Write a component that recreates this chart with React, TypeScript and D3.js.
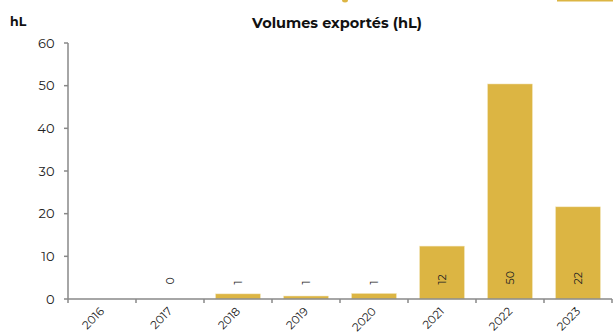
import React from "react";
import * as d3 from "d3";

const years = ["2016", "2017", "2018", "2019", "2020", "2021", "2022", "2023"];
const volumes: (number | null)[] = [null, 0, 1.2, 0.7, 1.3, 12.4, 50.4, 21.6];
const labels: (string | null)[] = [null, "0", "1", "1", "1", "12", "50", "22"];
const yTicks = [0, 10, 20, 30, 40, 50, 60];

const W = 613;
const H = 333;
const FONT = "Montserrat, 'DejaVu Sans', Verdana, sans-serif";
const BAR = "#DCB543";

export default function App() {
  const x = d3.scaleBand<string>().domain(years).range([68, 612]).paddingInner(0.34).paddingOuter(0.17);
  const y = d3.scaleLinear().domain([0, 60]).range([299, 43]);
  const full = d3.scaleBand<string>().domain(years).range([68, 612]);

  return (
    <svg width={W} height={H} style={{ position: "absolute", left: 0, top: 0 }} fontFamily={FONT}>
      <rect x={0} y={0} width={W} height={H} fill="#fff" />
      {/* cropped legend remnants at top */}
      <ellipse cx={345} cy={0} rx={3} ry={2.5} fill={BAR} />
      <rect x={557} y={0} width={56} height={1.5} fill={BAR} />

      <text x={10} y={25.5} fontSize={12.5} fontWeight="bold" fill="#111">hL</text>
      <text x={337} y={27.5} fontSize={14.5} fontWeight="bold" fill="#111" textAnchor="middle">Volumes exportés (hL)</text>

      {/* bars */}
      {years.map((yr, i) => {
        const v = volumes[i];
        if (v === null || v <= 0) return null;
        return (
          <rect key={yr} x={x(yr)} y={y(v)} width={x.bandwidth()} height={y(0) - y(v)} fill={BAR} stroke="#f3e7c0" strokeWidth={0.5} />
        );
      })}

      {/* y axis */}
      <line x1={68} x2={68} y1={y(60)} y2={y(0)} stroke="#888" strokeWidth={1.5} />
      {yTicks.map((t) => (
        <g key={t}>
          <line x1={64} x2={68} y1={y(t)} y2={y(t)} stroke="#888" strokeWidth={1.5} />
          <text x={54.5} y={y(t)} dy="0.35em" fontSize={13} textAnchor="end" fill="#222">{t}</text>
        </g>
      ))}

      {/* x axis */}
      <line x1={68} x2={612} y1={y(0)} y2={y(0)} stroke="#888" strokeWidth={1.5} />
      {years.map((yr) => (
        <line key={"t" + yr} x1={full(yr)} x2={full(yr)} y1={y(0)} y2={y(0) + 4} stroke="#888" strokeWidth={1.5} />
      ))}
      <line x1={612} x2={612} y1={y(0)} y2={y(0) + 4} stroke="#888" strokeWidth={1.5} />
      {years.map((yr) => {
        const cx = (x(yr) as number) + x.bandwidth() / 2;
        return (
          <text key={"l" + yr} transform={`translate(${cx + 3},${y(0) + 13}) rotate(-45)`} fontSize={11.5} textAnchor="end" fill="#222">{yr}</text>
        );
      })}

      {/* value labels */}
      {years.map((yr, i) => {
        const l = labels[i];
        if (l === null) return null;
        const cx = (x(yr) as number) + x.bandwidth() / 2;
        return (
          <text key={"v" + yr} transform={`translate(${cx},${284.5}) rotate(-90)`} dy="0.35em" fontSize={11} textAnchor="start" fill="#222">{l}</text>
        );
      })}
    </svg>
  );
}
